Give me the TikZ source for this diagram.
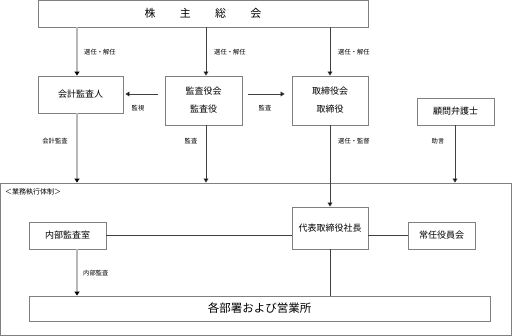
\documentclass[tikz,border=0pt]{standalone}
\usepackage{fontspec}
\setmainfont{Noto Sans CJK JP}
\usetikzlibrary{arrows.meta}
\tikzset{
  box/.style={draw=boxgray,line width=0.9pt,inner sep=0pt,align=center,font=\fontsize{9}{18}\selectfont},
  darkarrow/.style={draw=linedark,line width=0.7pt,-{Triangle[width=5pt,length=4pt,fill=black]}},
  grayarrow/.style={draw=linegray,line width=1.6pt,-{Triangle[width=5pt,length=4pt,fill=black,color=black]}},
  darkline/.style={draw=linedark,line width=0.7pt},
  lbl/.style={font=\fontsize{6.3}{7}\selectfont,inner sep=0pt}
}
\definecolor{boxgray}{HTML}{808080}
\definecolor{linedark}{HTML}{404040}
\definecolor{linegray}{HTML}{B8B8B8}
\begin{document}
\begin{tikzpicture}[x=1pt,y=-1pt]
\useasboundingbox (0,0) rectangle (513,336);
% boxes
\node[box,minimum width=330pt,minimum height=27pt,font=\fontsize{11}{12}\selectfont] (soukai) at (203,13.5) {株\hspace{2.2em}主\hspace{2.2em}総\hspace{2.2em}会};
\node[box,minimum width=85pt,minimum height=37pt] (kaikei) at (80.5,94.5) {会計監査人};
\node[box,minimum width=77pt,minimum height=49pt] (kansa) at (203.5,100.5) {監査役会\\監査役};
\node[box,minimum width=76pt,minimum height=49pt] (tori) at (330,100.5) {取締役会\\取締役};
\node[box,minimum width=77pt,minimum height=27pt] (komon) at (455.5,111.5) {顧問弁護士};
\node[box,minimum width=511pt,minimum height=152pt] (gyomu) at (256.25,259) {};
\node[lbl,anchor=west,font=\fontsize{7}{8}\selectfont] (gyomulbl) at (5,192) {＜業務執行体制＞};
\node[box,minimum width=76pt,minimum height=42pt] (daihyo) at (330,228) {代表取締役社長};
\node[box,minimum width=77pt,minimum height=27pt] (naibu) at (67.5,235.5) {内部監査室};
\node[box,minimum width=67pt,minimum height=27pt] (jonin) at (441.5,235.5) {常任役員会};
\node[box,minimum width=461pt,minimum height=25pt,font=\fontsize{11.5}{12}\selectfont] (kakubu) at (259.5,308.5) {各部署および営業所};
% helper coordinates
\coordinate (xa) at (77,0);
\coordinate (xb) at (206,0);
\coordinate (xc) at (330,0);
\coordinate (xd) at (455,0);
\coordinate (ya) at (0,94);
% connectors
\draw[grayarrow] (soukai.south -| xa) -- (kaikei.north -| xa);
\draw[darkarrow] (soukai.south -| xb) -- (kansa.north -| xb);
\draw[darkarrow] (soukai.south -| xc) -- (tori.north -| xc);
\draw[darkarrow,shorten <=7pt,shorten >=2pt] (kansa.west |- ya) -- (kaikei.east |- ya);
\draw[darkarrow,shorten <=6pt,shorten >=7pt] (kansa.east |- ya) -- (tori.west |- ya);
\draw[grayarrow] (kaikei.south -| xa) -- (gyomu.north -| xa);
\draw[darkarrow] (kansa.south -| xb) -- (gyomu.north -| xb);
\draw[darkarrow] (tori.south) -- (daihyo.north);
\draw[darkarrow] (komon.south -| xd) -- (gyomu.north -| xd);
\draw[darkline] (naibu.east) -- (daihyo.west |- naibu.east);
\draw[darkline] (daihyo.east |- jonin.west) -- (jonin.west);
\draw[darkline] (daihyo.south) -- (kakubu.north -| daihyo.south);
\draw[grayarrow] (naibu.south -| xa) -- (kakubu.north -| xa);
% labels
\node[lbl,anchor=west] (l1) at (84,52) {選任・解任};
\node[lbl,anchor=west] (l2) at (214,52) {選任・解任};
\node[lbl,anchor=west] (l3) at (338,52) {選任・解任};
\node[lbl] (l4) at (138,108) {監視};
\node[lbl] (l5) at (265,108) {監査};
\node[lbl] (l6) at (55,141) {会計監査};
\node[lbl] (l7) at (191,141) {監査};
\node[lbl,anchor=west] (l8) at (338,141) {選任・監督};
\node[lbl] (l9) at (438,141) {助言};
\node[lbl,anchor=west] (l10) at (83,273) {内部監査};
\end{tikzpicture}
\end{document}
